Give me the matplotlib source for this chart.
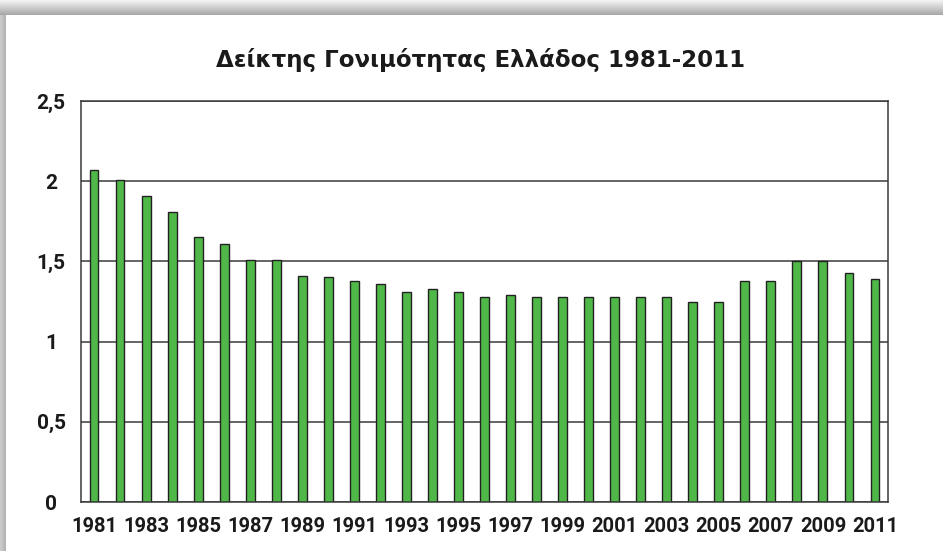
import numpy as np
import matplotlib
matplotlib.use("Agg")
import matplotlib.pyplot as plt
from matplotlib.ticker import FuncFormatter

# fertility index per year
years = list(range(1981, 2012))
values = [2.07, 2.01, 1.91, 1.81, 1.65, 1.61, 1.51, 1.51, 1.41, 1.40,
          1.38, 1.36, 1.31, 1.33, 1.31, 1.28, 1.29, 1.28, 1.28, 1.28,
          1.28, 1.28, 1.28, 1.25, 1.25, 1.38, 1.38, 1.50, 1.50, 1.43,
          1.39]
yticks = [0, 0.5, 1, 1.5, 2, 2.5]
title = "Δείκτης Γονιμότητας Ελλάδος 1981-2011"

plt.rcParams['font.family'] = ['Roboto', 'DejaVu Sans']
plt.rcParams['font.weight'] = 'bold'

W, H = 943, 551
fig = plt.figure(figsize=(W / 100, H / 100), dpi=100)

# shadowed frame around the white panel
bg = fig.add_axes([0, 0, 1, 1])
img = np.ones((H, W))
top = 15
left = 6
img[:top, :] = np.linspace(0.95, 0.66, top)[:, None]
img[top:, :left] = np.linspace(0.80, 0.70, left)[None, :]
bg.imshow(img, cmap='gray', vmin=0, vmax=1, aspect='auto', interpolation='bilinear')
bg.set_axis_off()

ax = fig.add_axes([81 / W, 1 - 502 / H, (888 - 81) / W, (502 - 101) / H])
x = np.arange(len(years))
ax.set_axisbelow(True)
ax.yaxis.grid(True, color='#3a3a3a', linewidth=1.1)
ax.bar(x, values, width=0.34, color='#50b848', edgecolor='#222222', linewidth=1.0)

ax.set_xlim(-0.5, len(years) - 0.5)
ax.set_ylim(0, 2.5)
ax.set_yticks(yticks)
ax.yaxis.set_major_formatter(FuncFormatter(lambda v, p: ('%g' % v).replace('.', ',')))
ax.set_xticks(x[::2])
ax.set_xticklabels([str(y) for y in years[::2]])
ax.tick_params(axis='both', length=0, colors='#1a1a1a')
ax.tick_params(axis='x', labelsize=14.5, pad=11)
ax.tick_params(axis='y', labelsize=15, pad=0)
for lbl in ax.get_yticklabels():
    lbl.set_horizontalalignment('center')
    lbl.set_x(-30 / (888 - 81))
for s in ax.spines.values():
    s.set_color('#3a3a3a')
    s.set_linewidth(1.1)

# wide, spaced title face
fig.text(481 / W, 1 - 60 / H, title, ha='center', va='center',
         fontsize=16.5, fontweight='bold', color='#1a1a1a',
         family=['DejaVu Sans'])

fig.savefig('out.png', dpi=100)
